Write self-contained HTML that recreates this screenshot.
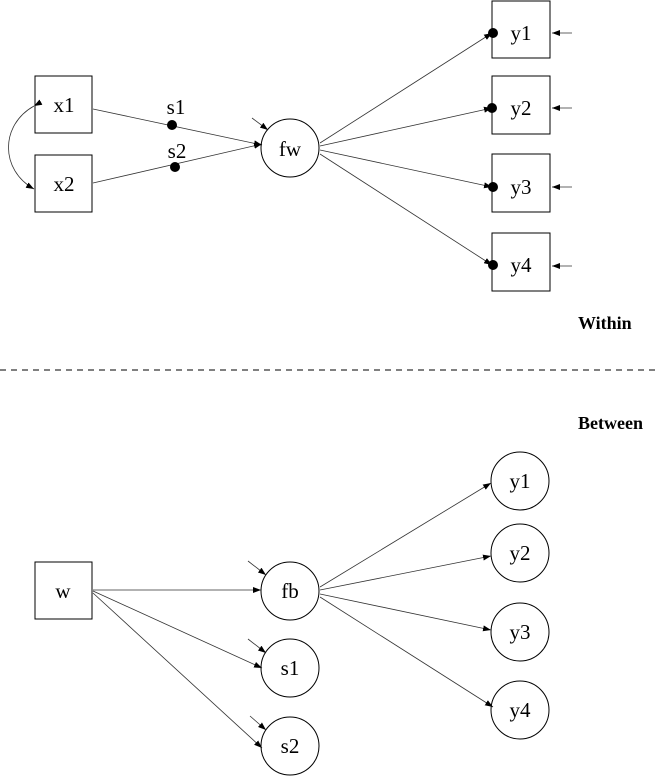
<!DOCTYPE html>
<html><head><style>body{margin:0;background:#fff}svg{display:block}text{font-family:"Liberation Serif",serif;font-size:21px}</style></head><body>
<svg width="659" height="776" viewBox="0 0 659 776">
<defs><marker id="a" markerWidth="8" markerHeight="6" refX="8" refY="3" orient="auto" markerUnits="userSpaceOnUse"><path d="M0,0L8,3L0,6z" fill="#000"/></marker></defs>
<g fill="none" stroke="#000" stroke-width="1">
<rect x="35" y="76" width="57" height="57"/><rect x="35" y="155" width="57" height="57"/>
<circle cx="290" cy="148" r="29"/>
<rect x="492" y="1" width="58" height="57"/><rect x="492" y="76" width="58" height="58"/>
<rect x="492" y="154" width="58" height="58"/><rect x="492" y="233" width="58" height="58"/>
<rect x="35" y="562" width="57" height="57"/>
<circle cx="290" cy="591" r="29"/><circle cx="290" cy="668" r="29"/><circle cx="290" cy="746" r="29"/>
<circle cx="520" cy="481" r="29"/><circle cx="520" cy="553" r="29"/><circle cx="520" cy="632" r="29"/><circle cx="520" cy="710" r="29"/>
</g>
<g stroke="#333" stroke-width="0.8" fill="none" marker-end="url(#a)">
<path d="M34,106 C0,125 0,170 34,189" marker-start="url(#a)"/>
<line x1="93" y1="109" x2="262" y2="145"/><line x1="93" y1="183" x2="262" y2="144"/>
<line x1="252" y1="118" x2="268" y2="130"/>
<line x1="320" y1="143" x2="492" y2="33"/><line x1="320" y1="146" x2="492" y2="108"/>
<line x1="320" y1="150" x2="492" y2="187"/><line x1="320" y1="154" x2="492" y2="265"/>
<line x1="572" y1="33" x2="552" y2="33"/><line x1="572" y1="108" x2="552" y2="108"/>
<line x1="572" y1="187" x2="552" y2="187"/><line x1="572" y1="266" x2="552" y2="266"/>
<line x1="93" y1="590" x2="261" y2="590"/><line x1="93" y1="591" x2="262" y2="668"/><line x1="93" y1="593" x2="262" y2="748"/>
<line x1="248" y1="561" x2="266" y2="575"/><line x1="248" y1="639" x2="266" y2="653"/><line x1="250" y1="716" x2="266" y2="730"/>
<line x1="320" y1="587" x2="491" y2="483"/><line x1="320" y1="590" x2="491" y2="556"/>
<line x1="320" y1="594" x2="491" y2="630"/><line x1="320" y1="597" x2="493" y2="707"/>
</g>
<g fill="#000"><circle cx="172" cy="125" r="5"/><circle cx="175" cy="167" r="5"/>
<circle cx="493" cy="33" r="5"/><circle cx="492" cy="108" r="5"/><circle cx="493" cy="187" r="5"/><circle cx="493" cy="265" r="5"/></g>
<line x1="0" y1="370" x2="659" y2="370" stroke="#000" stroke-dasharray="6,5"/>
<g text-anchor="middle">
<text x="64" y="112">x1</text><text x="64" y="191">x2</text>
<text x="176" y="114">s1</text><text x="177" y="158">s2</text>
<text x="290" y="156">fw</text>
<text x="521" y="40">y1</text><text x="521" y="115">y2</text><text x="521" y="194">y3</text><text x="521" y="272">y4</text>
<text x="63" y="598">w</text><text x="290" y="598">fb</text><text x="290" y="675">s1</text><text x="290" y="753">s2</text>
<text x="520" y="488">y1</text><text x="520" y="560">y2</text><text x="520" y="639">y3</text><text x="520" y="717">y4</text>
</g>
<text x="578" y="329" font-weight="bold" style="font-size:18px">Within</text>
<text x="578" y="429" font-weight="bold" style="font-size:18px">Between</text>
</svg>
</body></html>
